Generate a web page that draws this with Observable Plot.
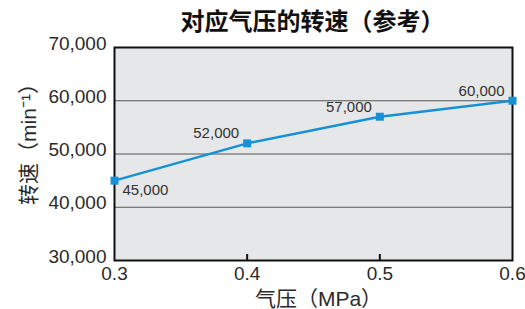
<!DOCTYPE html>
<html><head><meta charset="utf-8">
<script src="https://cdn.jsdelivr.net/npm/d3@7"></script>
<script src="https://cdn.jsdelivr.net/npm/@observablehq/plot@0.6"></script>
<style>body{margin:0;background:#fff}</style>
</head><body><div id="chart"></div>
<script>
const title = "对应气压的转速（参考）";
const xLabel = "气压（MPa）";
const yLabel = "转速（min⁻¹）";
const pressures = [0.3, 0.4, 0.5, 0.6];
const speeds = [45000, 52000, 57000, 60000];
const yTicks = [30000, 40000, 50000, 60000, 70000];
const xTicks = [0.3, 0.4, 0.5, 0.6];
const gridValues = [40000, 50000, 60000];
const innerTicks = [0.4, 0.5];

const points = pressures.map((p, i) => ({p, s: speeds[i]}));
const fmt = d3.format(",");
const blue = "#1591d8";
const cjk = "'Liberation Sans', 'Noto Sans CJK SC', sans-serif";

const chart = Plot.plot({
  width: 525, height: 309,
  marginLeft: 114, marginRight: 13, marginTop: 47, marginBottom: 49,
  style: {fontFamily: cjk, fontSize: "19px", color: "#2a2a2a", background: "#fff"},
  x: {domain: [0.3, 0.6]},
  y: {domain: [30000, 70000]},
  marks: [
    Plot.frame({fill: "#e6e7e8"}),
    Plot.gridY(gridValues, {stroke: "#555", strokeOpacity: 1, strokeWidth: 1}),
    Plot.axisY(yTicks, {tickSize: 0, tickPadding: 8, dy: -4, tickFormat: fmt, label: null, fill: "#2a2a2a"}),
    Plot.axisX(xTicks, {tickSize: 0, tickPadding: 6, tickFormat: d => d.toFixed(1), label: null, fill: "#2a2a2a"}),
    Plot.ruleX(innerTicks, {insetTop: 207, stroke: "#111", strokeWidth: 2}),
    Plot.frame({stroke: "#111", strokeWidth: 2}),
    Plot.line(points, {x: "p", y: "s", stroke: blue, strokeWidth: 2.5}),
    Plot.dot(points, {x: "p", y: "s", symbol: "square", r: 4.5, fill: blue}),
    Plot.text(points.slice(0, 1), {x: "p", y: "s", text: d => fmt(d.s), textAnchor: "start", dx: 8, dy: 10, fontSize: 15, fill: "#333"}),
    Plot.text(points.slice(1), {x: "p", y: "s", text: d => fmt(d.s), textAnchor: "end", dx: -8, dy: -10, fontSize: 15, fill: "#333"}),
    Plot.text([title], {frameAnchor: "top", lineAnchor: "middle", dy: -25, dx: -1, fontSize: 24, fontWeight: "bold", fill: "#111", fontFamily: "'Noto Sans CJK SC', sans-serif"}),
    Plot.text([xLabel], {frameAnchor: "bottom", lineAnchor: "middle", dy: 39, dx: 5, fontSize: 21, fill: "#2a2a2a"}),
    Plot.text([yLabel], {frameAnchor: "left", textAnchor: "middle", lineAnchor: "middle", rotate: -90, dx: -85, dy: -15, fontSize: 21, fill: "#2a2a2a"})
  ]
});
document.getElementById("chart").append(chart);
</script></body></html>
